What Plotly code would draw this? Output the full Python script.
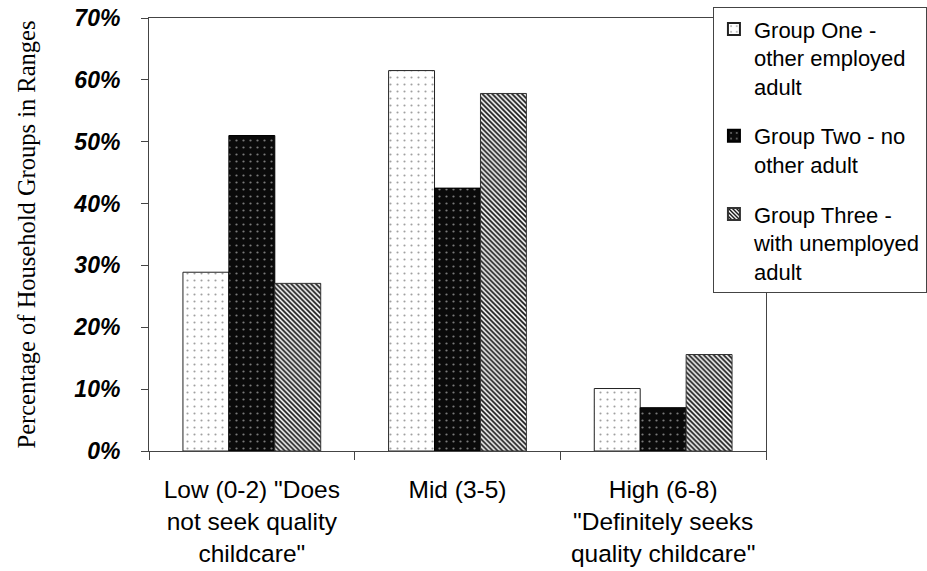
import plotly.graph_objects as go

# Childcare-seeking score ranges (x categories)
categories = [
    'Low (0-2) "Does<br>not seek quality<br>childcare"',
    'Mid (3-5)',
    'High (6-8)<br>"Definitely seeks<br>quality childcare"',
]

# Percentage of each household group falling in each range
group_one = [28.9, 61.5, 10.1]
group_two = [51.0, 42.5, 7.0]
group_three = [27.1, 57.8, 15.6]

series_names = [
    "Group One -<br>other employed<br>adult",
    "Group Two - no<br>other adult",
    "Group Three -<br>with unemployed<br>adult",
]

y_ticks = [0, 10, 20, 30, 40, 50, 60, 70]
y_tick_labels = ["0%", "10%", "20%", "30%", "40%", "50%", "60%", "70%"]

SANS = "Liberation Sans, Arial, sans-serif"
SERIF = "Liberation Serif, Times New Roman, serif"

fig = go.Figure()

fig.add_trace(go.Bar(
    x=categories, y=group_one, name=series_names[0], legendgroup="g1",
    marker=dict(
        color="white",
        line=dict(color="#222", width=1),
        pattern=dict(shape=".", fgcolor="#a0a0a0", bgcolor="white",
                     size=7, solidity=0.07, fillmode="replace"),
    ),
))
fig.add_trace(go.Bar(
    x=categories, y=group_two, name=series_names[1], legendgroup="g2",
    marker=dict(
        color="black",
        line=dict(color="black", width=1),
        pattern=dict(shape=".", fgcolor="#7a7a7a", bgcolor="#0a0a0a",
                     size=7, solidity=0.08, fillmode="replace"),
    ),
))
fig.add_trace(go.Bar(
    x=categories, y=group_three, name=series_names[2], legendgroup="g3",
    marker=dict(
        color="white",
        line=dict(color="#333", width=1),
        pattern=dict(shape="\\", fgcolor="#111", bgcolor="white",
                     size=3.5, solidity=0.5, fillmode="replace"),
    ),
))

fig.update_layout(
    width=927, height=571,
    margin=dict(l=149, r=161, t=18, b=120, autoexpand=False),
    paper_bgcolor="white", plot_bgcolor="white",
    barmode="group", bargap=0.33, bargroupgap=0,
    font=dict(family=SANS, size=23, color="black"),
    showlegend=True,
    legend=dict(
        x=0.914, xanchor="left", y=1.025, yanchor="top",
        bgcolor="white", bordercolor="#444", borderwidth=1,
        font=dict(family=SANS, size=22, color="black"),
        tracegroupgap=18, valign="top",
        itemsizing="constant", maxheight=571,
    ),
    xaxis=dict(
        type="category",
        showline=True, linecolor="#444", linewidth=1, mirror=True,
        ticks="outside", tickson="boundaries", ticklen=8, tickcolor="#444",
        tickfont=dict(family=SANS, size=24.5, color="black"),
        ticklabelstandoff=17,
        showgrid=False, zeroline=False,
    ),
    yaxis=dict(
        range=[0, 70], tickvals=y_ticks, ticktext=y_tick_labels,
        showline=True, linecolor="#444", linewidth=1, mirror=True,
        ticks="outside", ticklen=7, tickcolor="#444",
        tickfont=dict(family=SANS, size=23, color="black",
                      weight="bold", style="italic"),
        ticklabelstandoff=16,
        showgrid=False, zeroline=False,
        title=dict(text="Percentage of Household Groups in Ranges",
                   font=dict(family=SERIF, size=24.5, color="black"),
                   standoff=30),
    ),
)

fig.write_html("out.html")
